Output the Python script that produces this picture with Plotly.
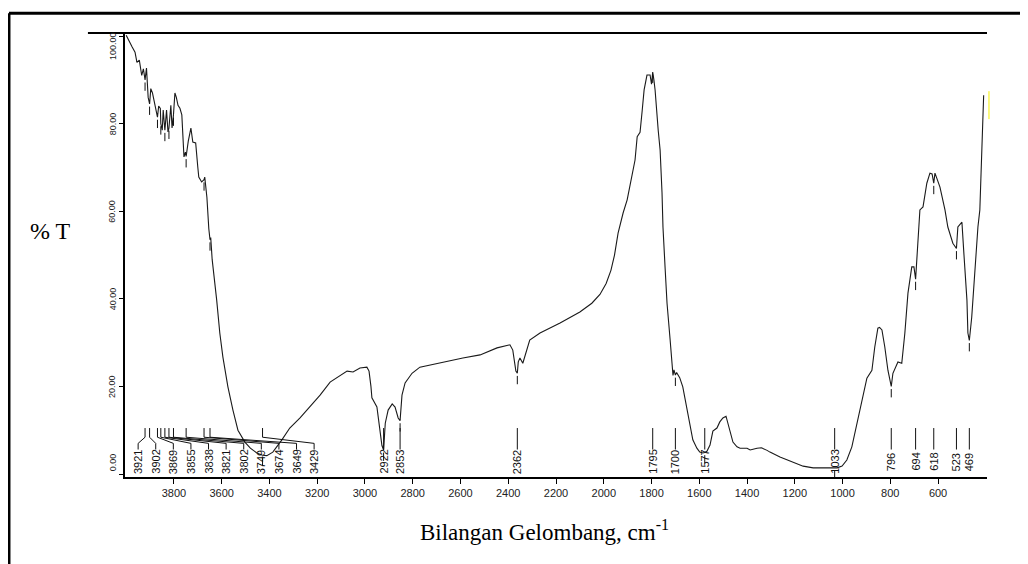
import numpy as np
import plotly.graph_objects as go

# ---- spectrum data (wavenumber cm-1, %T) ----
wavenumber = [4000, 3990, 3975, 3963, 3955, 3945, 3935, 3928, 3921, 3915, 3908, 3902, 3897, 3890,
              3884, 3877, 3869, 3864, 3857, 3855, 3849, 3845, 3838, 3831, 3825, 3821, 3813, 3808,
              3802, 3796, 3790, 3783, 3775, 3767, 3758, 3752, 3749, 3740, 3729, 3721, 3709, 3700,
              3696, 3684, 3674, 3671, 3662, 3654, 3649, 3646, 3640, 3621, 3608, 3595, 3574, 3553,
              3532, 3503, 3480, 3453, 3429, 3411, 3386, 3348, 3315, 3272, 3230, 3188, 3146, 3117,
              3075, 3050, 3021, 2992, 2983, 2975, 2971, 2950, 2938, 2929, 2922, 2915, 2903, 2886,
              2874, 2861, 2853, 2845, 2832, 2803, 2770, 2728, 2657, 2590, 2518, 2447, 2393, 2381,
              2368, 2362, 2358, 2351, 2339, 2322, 2310, 2267, 2183, 2100, 2050, 2016, 1990, 1970,
              1955, 1940, 1919, 1902, 1881, 1869, 1860, 1848, 1839, 1831, 1819, 1806, 1800, 1795,
              1790, 1785, 1772, 1764, 1756, 1752, 1743, 1735, 1722, 1710, 1706, 1700, 1695, 1682,
              1669, 1652, 1640, 1627, 1610, 1598, 1585, 1577, 1568, 1555, 1543, 1526, 1514, 1501,
              1488, 1480, 1471, 1459, 1442, 1429, 1400, 1387, 1358, 1340, 1316, 1304, 1262, 1207,
              1165, 1123, 1065, 1033, 1023, 1002, 982, 961, 940, 919, 898, 877, 865, 852, 845, 835,
              823, 810, 800, 796, 789, 768, 752, 739, 726, 710, 701, 694, 689, 676, 663, 647, 634,
              625, 618, 613, 605, 592, 571, 559, 538, 523, 517, 500, 492, 479, 475, 469, 459, 446,
              433, 425, 417, 413, 409]
transmittance = [100.2, 99.0, 97.5, 96.3, 94.0, 94.5, 91.0, 92.5, 90.0, 92.7, 86.0, 84.5, 88.0, 87.0,
                 85.4, 84.0, 81.5, 84.0, 83.5, 80.0, 78.5, 83.1, 78.5, 83.1, 78.1, 79.0, 84.2, 79.0,
                 82.0, 87.0, 86.0, 84.2, 83.5, 82.0, 72.4, 73.5, 72.5, 76.0, 79.0, 75.8, 75.6, 70.0,
                 67.8, 66.7, 67.2, 67.8, 63.2, 56.0, 53.5, 54.0, 49.0, 39.7, 32.2, 26.7, 19.9, 14.6,
                 10.0, 7.3, 5.9, 4.8, 4.3, 4.2, 5.0, 7.8, 10.5, 12.8, 15.3, 18.0, 21.0, 22.1,
                 23.5, 23.3, 24.2, 24.4, 23.5, 20.0, 17.4, 15.3, 10.0, 6.5, 5.5, 11.6, 14.6, 16.0,
                 15.3, 12.8, 12.2, 18.0, 20.8, 23.0, 24.4, 24.9, 25.6, 26.5, 27.2, 28.8, 29.5, 28.3,
                 23.5, 23.0, 25.6, 26.5, 25.3, 28.3, 30.6, 32.2, 34.5, 37.0, 39.0, 41.0, 43.5, 46.5,
                 50.0, 55.0, 59.6, 62.6, 68.3, 71.7, 77.0, 78.0, 83.0, 87.7, 91.1, 91.1, 89.0, 91.8,
                 90.0, 87.7, 78.5, 74.0, 64.2, 56.4, 47.0, 39.0, 30.6, 22.5, 23.8, 22.6, 23.2, 22.0,
                 19.9, 15.3, 11.6, 7.8, 5.9, 5.0, 4.8, 4.9, 5.2, 6.6, 9.8, 10.5, 11.9, 12.8,
                 13.2, 11.6, 10.0, 7.3, 6.2, 5.9, 5.9, 5.5, 5.9, 6.0, 5.4, 5.0, 3.9, 2.7,
                 1.8, 1.4, 1.4, 1.3, 1.4, 1.8, 3.2, 6.2, 11.6, 16.9, 21.9, 23.7, 29.0, 33.3, 33.5, 32.9,
                 29.0, 23.7, 20.5, 20.0, 23.0, 25.6, 25.3, 32.2, 41.3, 47.3, 47.3, 44.5, 48.9, 60.3, 61.0, 66.4, 68.7,
                 68.5, 66.4, 68.7, 67.5, 65.5, 60.3, 56.4, 52.7, 51.5, 56.4, 57.5, 50.5, 39.7, 32.2, 30.5, 35.8, 47.3,
                 56.4, 60.3, 74.0, 82.4, 86.5]

# labelled peaks
peaks = [3921, 3902, 3869, 3855, 3838, 3821, 3802, 3749, 3674, 3649, 3429,
         2922, 2853, 2362, 1795, 1700, 1577, 1033, 796, 694, 618, 523, 469]
peak_labels = [str(p) for p in peaks]

x_ticks = [3800, 3600, 3400, 3200, 3000, 2800, 2600, 2400, 2200, 2000, 1800, 1600, 1400, 1200, 1000, 800, 600]
y_ticks = [0, 20, 40, 60, 80, 100]
y_tick_text = ["0.00", "20.00", "40.00", "60.00", "80.00", "100.00"]

wn = np.array(wavenumber, dtype=float)
tr = np.array(transmittance, dtype=float)

# label positions: crowded group spread out evenly, others under the peak
n_cluster = 11
label_pos = []
for i, p in enumerate(peaks):
    if i < n_cluster:
        label_pos.append(3950 - 73.7 * i)
    else:
        label_pos.append(p)

fig = go.Figure()

fig.add_trace(go.Scatter(x=wavenumber, y=transmittance, mode="lines",
                         line=dict(color="#1a1a1a", width=1.1), hoverinfo="skip"))

# leader lines
lx, ly = [], []
for p, L in zip(peaks, label_pos):
    lx += [p, p, L, L, None]
    ly += [10.5, 8.4, 7.0, 5.6, None]
fig.add_trace(go.Scatter(x=lx, y=ly, mode="lines", line=dict(color="#111", width=1),
                         hoverinfo="skip"))

# peak markers on the curve (short dashes under the curve)
order = np.argsort(wn)
mx, my = [], []
for p in peaks:
    t = float(np.interp(p, wn[order], tr[order]))
    mx += [p, p, None]
    my += [t - 0.6, t - 2.5, None]
fig.add_trace(go.Scatter(x=mx, y=my, mode="lines", line=dict(color="#111", width=1),
                         hoverinfo="skip"))

label_font = dict(family="Liberation Sans, Arial", size=11, color="#111")
for L, txt in zip(label_pos, peak_labels):
    fig.add_annotation(x=L, y=2.75, xref="x", yref="y", text=txt, showarrow=False,
                       textangle=-90, xanchor="center", yanchor="middle", font=label_font)

# y tick labels (end labels pulled inside the axis span, as in the reference)
ytick_font = dict(family="Liberation Sans, Arial", size=9, color="#222")
y_label_pos = []
for v in y_ticks:
    if v == max(y_ticks):
        y_label_pos.append(v - 2.4)
    elif v == min(y_ticks):
        y_label_pos.append(v + 2.6)
    else:
        y_label_pos.append(v)
for v, txt in zip(y_label_pos, y_tick_text):
    fig.add_annotation(x=-0.0145, y=v, xref="paper", yref="y", text=txt, showarrow=False,
                       textangle=-90, xanchor="center", yanchor="middle", font=ytick_font)

# axis titles
fig.add_annotation(x=-0.087, y=0.553, xref="paper", yref="paper", text="% T",
                   showarrow=False, xanchor="center", yanchor="middle",
                   font=dict(family="Liberation Serif, Times New Roman", size=24, color="#000"))
fig.add_annotation(x=0.487, y=-0.12, xref="paper", yref="paper",
                   text="Bilangan Gelombang, cm<sup>-1</sup>", showarrow=False,
                   xanchor="center", yanchor="middle",
                   font=dict(family="Liberation Serif, Times New Roman", size=23, color="#000"))

# frame, top line, yellow mark
fig.add_shape(type="line", xref="paper", yref="paper", x0=-0.1346, x1=1.2, y0=1.0445, y1=1.0445,
              line=dict(color="#000", width=3))
fig.add_shape(type="line", xref="paper", yref="paper", x0=-0.1346, x1=-0.1346, y0=-0.3, y1=1.0445,
              line=dict(color="#000", width=3))
fig.add_shape(type="line", xref="paper", yref="paper", x0=-0.043, x1=1.0, y0=1.0, y1=1.0,
              line=dict(color="#000", width=2))
fig.add_shape(type="line", xref="paper", yref="paper", x0=1.0023, x1=1.0023, y0=0.806, y1=0.869,
              line=dict(color="#f5f000", width=1))

fig.update_xaxes(range=[4005, 395], tickvals=x_ticks, ticks="outside", ticklen=5, tickwidth=1,
                 tickcolor="#000", showline=True, linecolor="#000", linewidth=2, mirror=False,
                 showgrid=False, zeroline=False, automargin=False,
                 tickfont=dict(family="Liberation Sans, Arial", size=11, color="#222"))
fig.update_yaxes(range=[-0.68, 100.7], tickvals=y_ticks, showticklabels=False,
                 ticks="outside", ticklen=4, tickwidth=1, tickcolor="#000", showline=True,
                 linecolor="#000", linewidth=2, showgrid=False, zeroline=False, automargin=False)

# page body adds an 8px offset, so margins are reduced accordingly
fig.update_layout(width=1028, height=564, autosize=False, showlegend=False,
                  margin=dict(l=117, r=49, t=25, b=95),
                  plot_bgcolor="white", paper_bgcolor="white")

fig.write_html("out.html")
